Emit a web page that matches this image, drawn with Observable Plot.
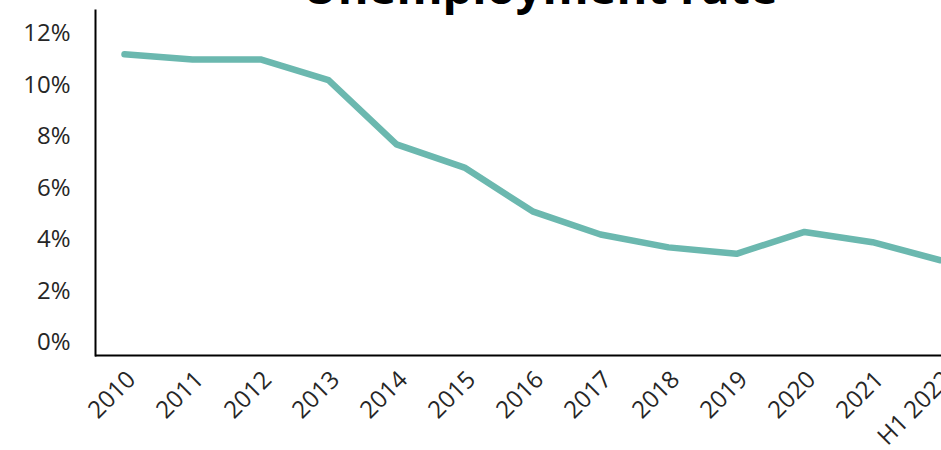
<!DOCTYPE html>
<html>
<head>
<meta charset="utf-8">
<script src="https://cdn.jsdelivr.net/npm/d3@7"></script>
<script src="https://cdn.jsdelivr.net/npm/@observablehq/plot@0.6"></script>
<style>
  html, body { margin: 0; padding: 0; background: white; overflow: hidden; }
  #chart { width: 941px; height: 450px; }
  #chart svg g[aria-label$="tick label"], #chart svg g[aria-label$="tick label"] text { font-size: 24px; fill: #262626; }
</style>
</head>
<body>
<div id="chart"></div>
<script>
const categories = ["2010","2011","2012","2013","2014","2015","2016","2017","2018","2019","2020","2021","H1 2022"];
const rates = [11.2, 11.0, 11.0, 10.2, 7.7, 6.8, 5.1, 4.2, 3.7, 3.45, 4.3, 3.9, 3.2];
const yTicks = [0, 2, 4, 6, 8, 10, 12];
const titleText = "Unemployment rate";

const data = categories.map((c, i) => ({category: c, rate: rates[i]}));
const yMin = -0.5, yMax = 12.9;

const chart = Plot.plot({
  width: 941,
  height: 450,
  marginLeft: 95,
  marginRight: 0,
  marginTop: 10,
  marginBottom: 95,
  style: {fontFamily: "'Open Sans', sans-serif", fontSize: "24px", color: "#262626", overflow: "hidden"},
  x: {type: "point", domain: categories, range: [120, 943], padding: 0, label: null},
  y: {domain: [yMin, yMax], label: null},
  marks: [
    Plot.axisY({ticks: yTicks, tickFormat: d => d + "%", tickSize: 0, tickPadding: 25, fontSize: 24}),
    Plot.axisX({tickSize: 0, tickRotate: -45, tickPadding: 20, dx: 7, fontSize: 24}),
    Plot.line(data, {x: "category", y: "rate", stroke: "#6BB8AF", strokeWidth: 6.5, strokeLinecap: "round", strokeLinejoin: "round"}),
    Plot.ruleY([yMin], {stroke: "#000", strokeWidth: 2}),
    Plot.frame({anchor: "left", stroke: "#000", strokeWidth: 2})
  ]
});

d3.select(chart).append("text")
  .attr("x", 540).attr("y", 4)
  .attr("text-anchor", "middle")
  .style("font-family", "'Open Sans', sans-serif")
  .style("font-weight", "bold")
  .style("font-size", "47px")
  .attr("fill", "#000")
  .text(titleText);

document.getElementById("chart").appendChild(chart);
</script>
</body>
</html>
